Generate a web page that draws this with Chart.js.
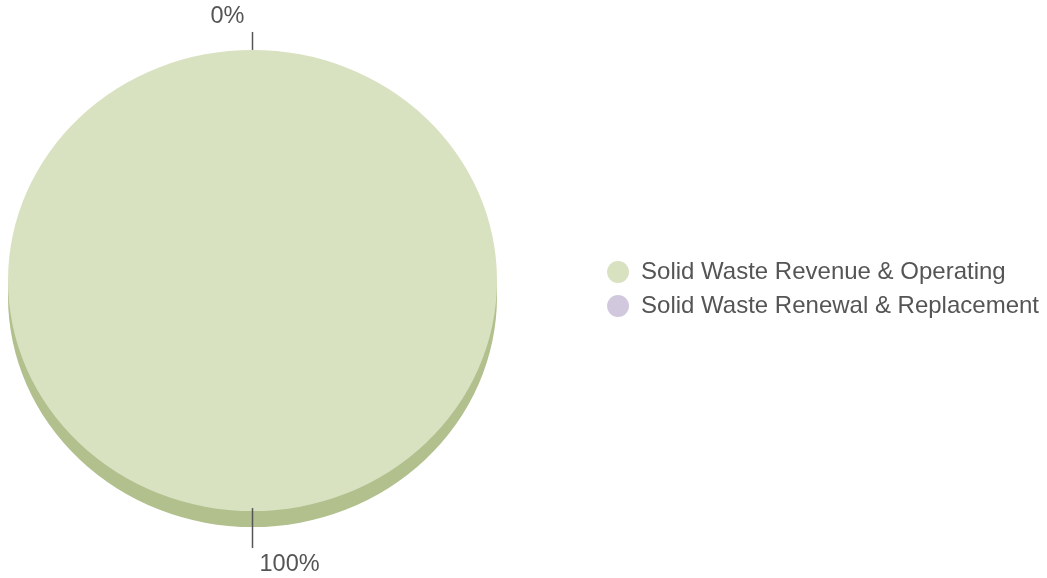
<!DOCTYPE html>
<html>
<head>
<meta charset="utf-8">
<script src="https://cdn.jsdelivr.net/npm/chart.js@4/dist/chart.umd.min.js"></script>
<style>
  html, body { margin: 0; padding: 0; background: #fff; }
  #wrap { width: 1047px; height: 578px; }
</style>
</head>
<body>
<div id="wrap"><canvas id="fundChart" width="1047" height="578"></canvas></div>
<script>
const fundLabels = ['Solid Waste Revenue & Operating', 'Solid Waste Renewal & Replacement'];
const fundShares = [100, 0];
const faceColors = ['#d8e2c1', '#d2c8de'];
const sideColors = ['#b2c08e', '#a89cb8'];

// fake 3D look: squash the pie a bit and paint a darker rim under it
const pie3d = {
    id: 'pie3d',
    afterLayout(chart) {
        const a = chart.chartArea;
        a.left = 8; a.right = 497;
        a.top = 36; a.bottom = 525;
        a.width = a.right - a.left; a.height = a.bottom - a.top;
    },
    beforeDatasetsDraw(chart, args, opts) {
        const arc = chart.getDatasetMeta(0).data[0];
        if (!arc) return;
        const ctx = chart.ctx;
        ctx.save();
        ctx.translate(arc.x, arc.y);
        ctx.scale(1, opts.squash);
        ctx.translate(-arc.x, -arc.y);
        const dy = opts.depth / opts.squash;
        chart.getDatasetMeta(0).data.forEach((el, i) => {
            if (el.endAngle - el.startAngle <= 0) return;
            ctx.beginPath();
            ctx.moveTo(el.x, el.y + dy);
            ctx.arc(el.x, el.y + dy, el.outerRadius, el.startAngle, el.endAngle);
            ctx.closePath();
            ctx.fillStyle = sideColors[i];
            ctx.fill();
        });
    },
    afterDatasetsDraw(chart, args, opts) {
        const ctx = chart.ctx;
        ctx.restore();
        const total = fundShares.reduce((s, v) => s + v, 0);
        ctx.save();
        ctx.font = '23.5px "Liberation Sans", Arial, sans-serif';
        ctx.fillStyle = '#555';
        ctx.strokeStyle = '#555';
        ctx.lineWidth = 1.5;
        chart.getDatasetMeta(0).data.forEach((el, i) => {
            const mid = (el.startAngle + el.endAngle) / 2;
            const cos = Math.cos(mid), sin = Math.sin(mid);
            const ex = el.x + el.outerRadius * cos;
            const ey = el.y + el.outerRadius * opts.squash * sin;
            const down = sin > 0.01;
            const x0 = ex - (down ? 3 * cos : 0), y0 = ey - (down ? 3 * sin : 0);
            const len = 18 + (down ? opts.depth + 3 : 0);
            const x1 = ex + len * cos, y1 = ey + len * sin;
            ctx.beginPath();
            ctx.moveTo(x0, y0);
            ctx.lineTo(x1, y1);
            ctx.stroke();
            const txt = Math.round(fundShares[i] / total * 100) + '%';
            ctx.textBaseline = 'middle';
            if (down) {
                ctx.textAlign = 'left';
                ctx.fillText(txt, x1 + 7, y1 + 16);
            } else {
                ctx.textAlign = 'right';
                ctx.fillText(txt, x1 - 8, y1 - 15);
            }
        });
        ctx.restore();
    }
};

new Chart(document.getElementById('fundChart'), {
    type: 'pie',
    data: {
        labels: fundLabels,
        datasets: [{
            data: fundShares,
            backgroundColor: faceColors,
            borderWidth: 0,
            clip: false
        }]
    },
    options: {
        responsive: false,
        animation: false,
        layout: { padding: { right: -2 } },
        plugins: {
            pie3d: { squash: 0.943, depth: 16 },
            tooltip: { enabled: false },
            legend: {
                position: 'right',
                labels: {
                    usePointStyle: true,
                    pointStyle: 'circle',
                    boxWidth: 22,
                    boxHeight: 15.5,
                    padding: 10,
                    color: '#555',
                    font: { family: '"Liberation Sans", Arial, sans-serif', size: 24 }
                }
            }
        }
    },
    plugins: [pie3d]
});
</script>
</body>
</html>
